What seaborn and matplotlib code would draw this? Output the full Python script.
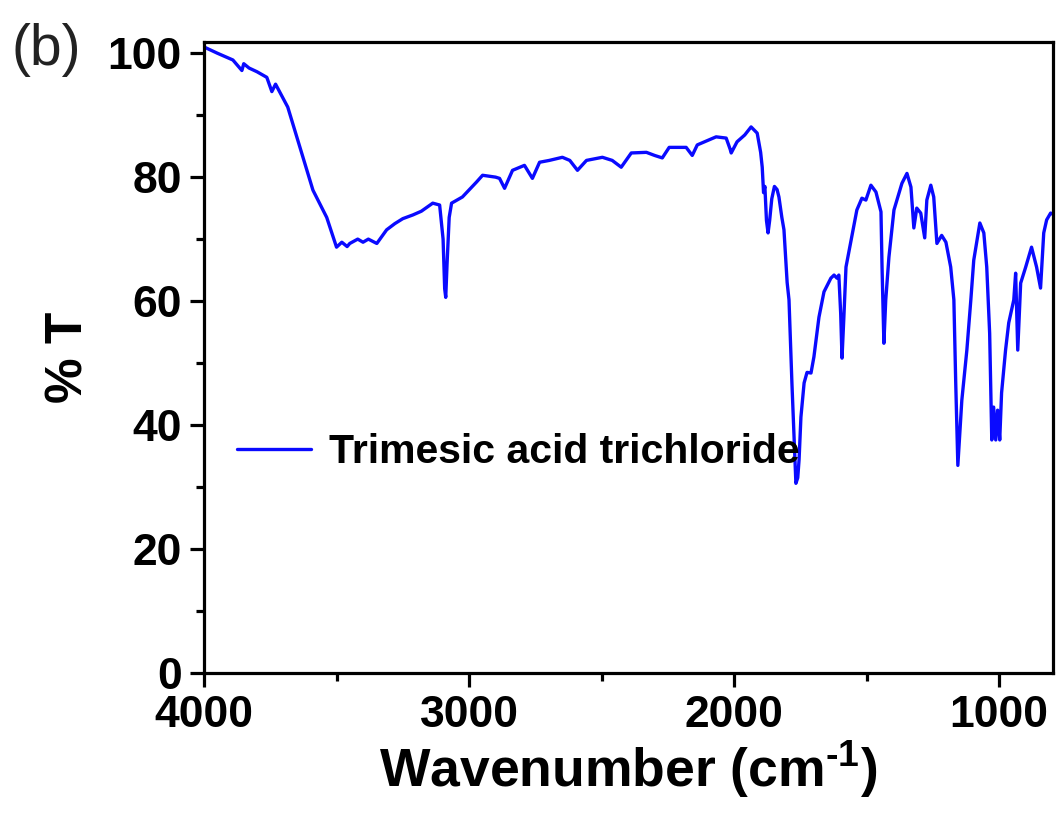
import matplotlib
matplotlib.use("Agg")
import matplotlib.pyplot as plt
from matplotlib.ticker import MultipleLocator
import seaborn as sns
import pandas as pd

# FTIR spectrum of trimesic acid trichloride (wavenumber in cm^-1, transmittance in %)
wavenumber = [
    4000, 3950, 3891, 3857, 3850, 3830, 3800, 3763, 3744, 3730, 3714, 3684,
    3638, 3589, 3537, 3500, 3480, 3460, 3450, 3420, 3400, 3380, 3348, 3311,
    3280, 3250, 3212, 3180, 3137, 3111, 3098, 3092, 3088, 3083, 3075, 3066,
    3025, 2972, 2949, 2900, 2885, 2866, 2836, 2791, 2761, 2734, 2697, 2648,
    2620, 2591, 2557, 2497, 2460, 2426, 2388, 2331, 2300, 2271, 2245, 2181,
    2158, 2139, 2068, 2030, 2015, 2011, 1989, 1960, 1936, 1913, 1900, 1894,
    1889, 1884, 1878, 1872, 1866, 1858, 1848, 1838, 1831, 1820, 1812, 1800,
    1793, 1782, 1767, 1760, 1755, 1748, 1736, 1725, 1710, 1699, 1680, 1661,
    1635, 1623, 1612, 1605, 1598, 1593, 1586, 1578, 1559, 1537, 1518, 1503,
    1484, 1465, 1446, 1442, 1435, 1428, 1416, 1397, 1367, 1348, 1333, 1322,
    1311, 1296, 1281, 1273, 1258, 1247, 1235, 1217, 1201, 1183, 1171, 1164,
    1156, 1141, 1122, 1107, 1096, 1073, 1058, 1047, 1036, 1028, 1021, 1013,
    1006, 998, 991, 976, 964, 945, 938, 930, 919, 900, 878, 859,
    844, 832, 821, 806, 797,
]
transmittance = [
    101.0, 100.0, 98.9, 97.2, 98.3, 97.6, 97.0, 96.1, 93.8, 95.0, 93.7, 91.3,
    84.8, 77.9, 73.5, 68.7, 69.5, 68.8, 69.3, 70.0, 69.5, 70.0, 69.3, 71.5,
    72.5, 73.3, 73.9, 74.5, 75.8, 75.5, 70.0, 62.0, 60.6, 66.0, 73.5, 75.8,
    76.8, 79.2, 80.3, 80.0, 79.8, 78.2, 81.1, 81.9, 79.8, 82.4, 82.7, 83.2,
    82.7, 81.1, 82.7, 83.2, 82.7, 81.6, 83.9, 84.0, 83.5, 83.1, 84.8, 84.8,
    83.5, 85.2, 86.5, 86.3, 84.5, 83.9, 85.7, 86.8, 88.1, 87.1, 84.0, 81.6,
    77.5, 78.5, 73.0, 71.0, 73.0, 76.5, 78.5, 78.0, 76.8, 73.5, 71.5, 63.0,
    60.2, 46.8, 30.6, 31.5, 34.4, 41.3, 46.8, 48.5, 48.4, 51.0, 57.4, 61.5,
    63.7, 64.2, 63.7, 64.2, 58.0, 50.8, 57.4, 65.5, 69.8, 74.7, 76.6, 76.3,
    78.7, 77.6, 74.4, 65.5, 53.2, 60.2, 67.1, 74.7, 79.0, 80.6, 78.4, 71.8,
    75.0, 74.2, 70.2, 76.3, 78.7, 76.8, 69.3, 70.6, 69.5, 65.5, 60.2, 46.8,
    33.5, 44.0, 52.1, 60.2, 66.6, 72.6, 71.0, 65.5, 54.8, 37.6, 42.9, 37.6,
    42.4, 37.6, 45.2, 52.1, 56.5, 60.2, 64.5, 52.1, 62.9, 65.5, 68.7, 65.5,
    62.1, 71.0, 73.1, 74.2, 74.0,
]
series_label = "Trimesic acid trichloride"
x_ticks = [4000, 3000, 2000, 1000]
y_ticks = [0, 20, 40, 60, 80, 100]

sns.set_theme(style="ticks")
plt.rcParams["font.family"] = ["Liberation Sans", "DejaVu Sans"]
plt.rcParams["font.weight"] = "bold"
plt.rcParams["axes.labelweight"] = "bold"
plt.rcParams["text.color"] = "black"
plt.rcParams["axes.labelcolor"] = "black"
plt.rcParams["xtick.color"] = "black"
plt.rcParams["ytick.color"] = "black"
plt.rcParams["mathtext.fontset"] = "custom"
plt.rcParams["mathtext.rm"] = "Liberation Sans:bold"
plt.rcParams["mathtext.bf"] = "Liberation Sans:bold"
plt.rcParams["mathtext.it"] = "Liberation Sans:bold"

df = pd.DataFrame({"Wavenumber": wavenumber, "T": transmittance})

fig = plt.figure(figsize=(10.63, 8.14), dpi=100)
ax = fig.add_axes([0.1919, 0.1732, 0.7987, 0.7752])

sns.lineplot(data=df, x="Wavenumber", y="T", ax=ax, sort=False,
             color="#0a0aff", linewidth=2.4, label=series_label)

ax.set_xlim(4000, 797)
ax.set_ylim(0, 101.8)
ax.set_xticks(x_ticks)
ax.set_yticks(y_ticks)
ax.xaxis.set_minor_locator(MultipleLocator(500))
ax.yaxis.set_minor_locator(MultipleLocator(10))

for side in ["left", "right", "top", "bottom"]:
    ax.spines[side].set_visible(True)
    ax.spines[side].set_linewidth(2.3)
    ax.spines[side].set_color("black")

ax.tick_params(axis="both", which="major", direction="out", length=10,
               width=2.3, labelsize=32, color="black", labelcolor="black", pad=6)
ax.tick_params(axis="both", which="minor", direction="out", length=6,
               width=2.3, color="black")
ax.tick_params(top=False, right=False, which="both")
for lbl in ax.get_xticklabels() + ax.get_yticklabels():
    lbl.set_fontweight("bold")

ax.set_xlabel("Wavenumber (cm$^{\\text{-1}}$)", fontsize=38.5, fontweight="bold",
              labelpad=2, color="black")
ax.set_ylabel("% T", fontsize=37, fontweight="bold", labelpad=10, color="black")

leg = ax.legend(loc="center left", bbox_to_anchor=(0.039, 0.35), frameon=False,
                borderaxespad=0, borderpad=0, handlelength=1.8, handletextpad=0.45,
                prop={"size": 29.5, "weight": "bold"})
for t in leg.get_texts():
    t.set_color("black")

fig.text(0.011, 1 - 50 / 814, "(b)", fontsize=41, fontweight="normal",
         color="#222222", va="center", ha="left")

fig.savefig("out.png", dpi=100, facecolor="white")
